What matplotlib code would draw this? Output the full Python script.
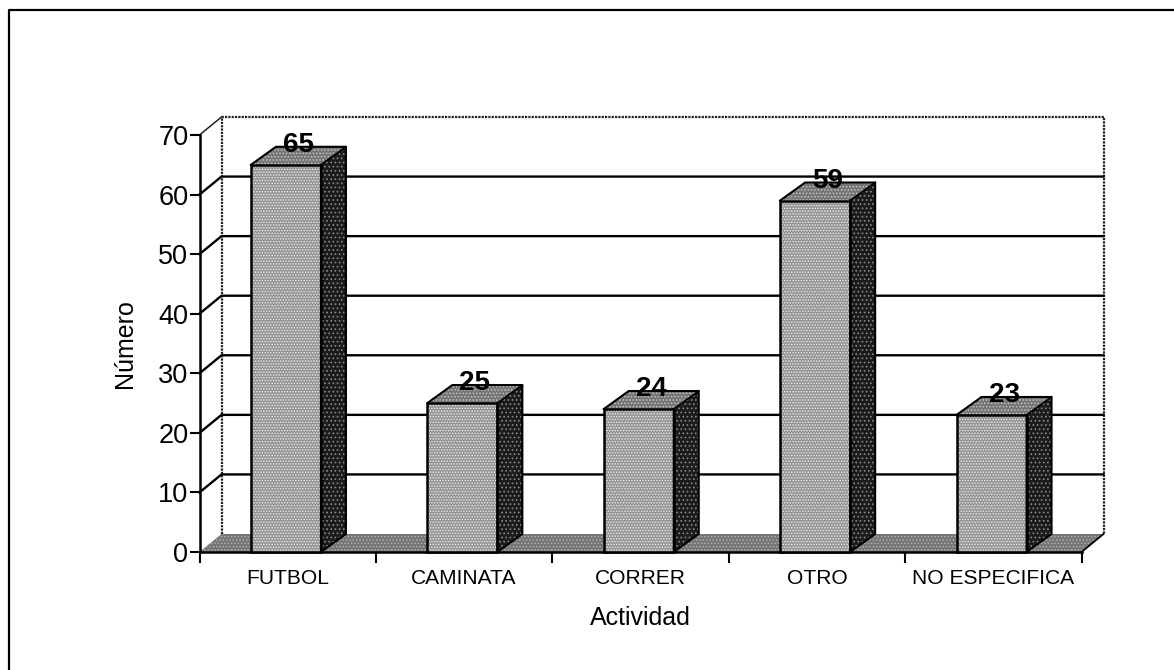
import matplotlib
matplotlib.use('Agg')
import matplotlib.pyplot as plt

actividades = ['FUTBOL', 'CAMINATA', 'CORRER', 'OTRO', 'NO ESPECIFICA']
valores = [65, 25, 24, 59, 23]
ticks_y = [0, 10, 20, 30, 40, 50, 60, 70]

plt.rcParams['font.family'] = ['Liberation Sans', 'DejaVu Sans']
plt.rcParams['hatch.linewidth'] = 0.7

W, H = 1174, 670
fig = plt.figure(figsize=(W / 100, H / 100), dpi=100)
ax = fig.add_axes([199.5 / W, 1 - 552 / H, 882 / W, 417 / H])
ax.set_xlim(0, 5)
ax.set_ylim(0, 70)

# profundidad del efecto 3D, en unidades de datos
dx_fondo = 22 / 176.4
dy_fondo = 18 / 5.957
dx_barra = 25 / 176.4
ancho = 70 / 176.4

# pared del fondo
ax.plot([dx_fondo, dx_fondo, 5 + dx_fondo, 5 + dx_fondo],
        [dy_fondo, 70 + dy_fondo, 70 + dy_fondo, dy_fondo],
        color='#222222', lw=1.6, ls=(0, (1, 0.5)), clip_on=False, zorder=1)
ax.plot([0, dx_fondo], [70, 70 + dy_fondo], color='#222222', lw=1.1, clip_on=False, zorder=1)
for t in ticks_y[1:-1]:
    ax.plot([0, dx_fondo, 5 + dx_fondo], [t, t + dy_fondo, t + dy_fondo],
            color='black', lw=1.7, clip_on=False, zorder=1)

# piso
ax.fill([0, dx_fondo, 5 + dx_fondo, 5], [0, dy_fondo, dy_fondo, 0],
        facecolor='#757575', edgecolor='#b0b0b0', hatch='.....', lw=0, clip_on=False, zorder=2)
ax.plot([5, 5 + dx_fondo], [0, dy_fondo], color='black', lw=1.3, clip_on=False, zorder=2)

# barras
for i, v in enumerate(valores):
    x0 = i + 0.49 - ancho / 2
    x1 = x0 + ancho
    ax.bar(x0, v, width=ancho, align='edge', facecolor='#949494', edgecolor='#ececec',
           hatch='......', lw=0, clip_on=False, zorder=3)
    ax.fill([x0, x0 + dx_barra, x1 + dx_barra, x1], [v, v + dy_fondo, v + dy_fondo, v],
            facecolor='#757575', edgecolor='#c4c4c4', hatch='.....', lw=0, clip_on=False, zorder=3)
    ax.fill([x1, x1 + dx_barra, x1 + dx_barra, x1], [0, dy_fondo, v + dy_fondo, v],
            facecolor='#1c1c1c', edgecolor='#8a8a8a', hatch='....', lw=0, clip_on=False, zorder=3)
    ax.plot([x0, x0, x1, x1, x0], [0, v, v, 0, 0], color='black', lw=1.8, clip_on=False, zorder=4)
    ax.plot([x0, x0 + dx_barra, x1 + dx_barra, x1 + dx_barra, x1, x1],
            [v, v + dy_fondo, v + dy_fondo, dy_fondo, 0, v],
            color='black', lw=1.5, clip_on=False, zorder=4)
    ax.plot([x1, x1 + dx_barra], [v, v + dy_fondo], color='black', lw=1.3, clip_on=False, zorder=4)
    ax.text(i + 0.49 + dx_barra / 2, v + dy_fondo + 0.3, str(v), ha='center', va='center',
            fontsize=20, fontweight='bold', color='black', clip_on=False, zorder=5)

# ejes
for lado in ['top', 'right']:
    ax.spines[lado].set_visible(False)
for lado in ['left', 'bottom']:
    ax.spines[lado].set_linewidth(1.8)
ax.patch.set_visible(False)

ax.set_yticks(ticks_y)
ax.set_yticklabels([str(t) for t in ticks_y], fontsize=19.5)
ax.tick_params(axis='y', length=7, width=1.5, pad=1)
ax.set_xticks(range(6))
ax.set_xticklabels([])
ax.tick_params(axis='x', length=8, width=1.5)
for i, a in enumerate(actividades):
    ax.annotate(a, xy=(i + 0.5, 0), xycoords=('data', 'axes fraction'), xytext=(0, -19),
                textcoords='offset points', ha='center', va='center', fontsize=15.1)

ax.set_xlabel('Actividad', fontsize=18, labelpad=27.5)
ax.set_ylabel('Número', fontsize=18, labelpad=15.5)

# marco exterior: solo arriba y a la izquierda
fig.add_artist(plt.Line2D([9 / W, 9 / W, 1], [0, 1 - 10 / H, 1 - 10 / H], color='black', lw=1.6))

fig.savefig('out.png', dpi=100)
